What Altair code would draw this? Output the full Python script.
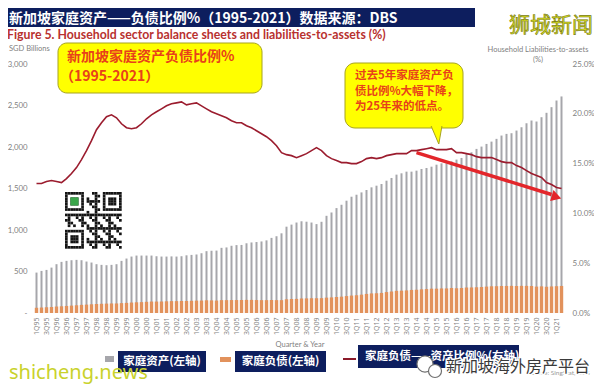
import altair as alt
import pandas as pd

# ---------------- data ----------------
quarters = [f"{q}Q{y % 100:02d}" for y in range(1995, 2022) for q in range(1, 5)][:106]
tick_labels = quarters[::2]

assets = [487, 507, 519, 547, 588, 616, 628, 636, 640, 636,
          620, 608, 588, 580, 576, 580, 588, 628, 656, 680,
          692, 692, 692, 692, 684, 680, 680, 682, 680, 684,
          695, 700, 705, 720, 745, 750, 752, 785, 790, 810,
          818, 820, 840, 850, 855, 862, 875, 905, 925, 960,
          1040, 1065, 1090, 1105, 1100, 1090, 1071, 1099, 1171, 1211,
          1264, 1304, 1353, 1401, 1425, 1453, 1482, 1514, 1534, 1554,
          1594, 1627, 1667, 1683, 1703, 1703, 1715, 1735, 1747, 1763,
          1787, 1803, 1803, 1827, 1848, 1868, 1917, 1936, 1977, 2005,
          2037, 2065, 2098, 2138, 2158, 2166, 2198, 2238, 2286, 2319,
          2307, 2359, 2412, 2480, 2560, 2609]

liabilities = [63, 66, 69, 73, 78, 81, 85, 89, 93, 98,
               101, 105, 108, 111, 113, 115, 115, 119, 122, 126,
               129, 131, 135, 138, 138, 139, 141, 143, 143, 145,
               145, 147, 149, 150, 153, 152, 150, 155, 155, 156,
               156, 157, 158, 158, 156, 155, 155, 157, 155, 155,
               165, 168, 170, 175, 176, 178, 178, 179, 185, 188,
               193, 197, 204, 210, 214, 221, 230, 236, 238, 242,
               252, 259, 267, 269, 272, 278, 280, 285, 288, 293,
               293, 296, 296, 301, 298, 301, 307, 308, 310, 313,
               318, 322, 323, 325, 326, 327, 325, 327, 327, 325,
               318, 321, 316, 320, 323, 326]

ratio = [13.0, 13.0, 13.2, 13.3, 13.2, 13.1, 13.5, 14.0, 14.6, 15.4,
         16.3, 17.3, 18.4, 19.1, 19.7, 19.9, 19.6, 19.0, 18.6, 18.5,
         18.6, 19.0, 19.5, 19.9, 20.2, 20.5, 20.8, 21.0, 21.1, 21.2,
         20.9, 21.0, 21.1, 20.8, 20.5, 20.2, 20.0, 19.8, 19.6, 19.3,
         19.1, 19.1, 18.8, 18.6, 18.3, 18.0, 17.7, 17.3, 16.8, 16.1,
         15.9, 15.8, 15.6, 15.8, 16.0, 16.3, 16.6, 16.3, 15.8, 15.5,
         15.3, 15.1, 15.1, 15.0, 15.0, 15.2, 15.5, 15.6, 15.5, 15.6,
         15.8, 15.9, 16.0, 16.0, 16.0, 16.3, 16.3, 16.4, 16.5, 16.6,
         16.4, 16.4, 16.4, 16.5, 16.1, 16.1, 16.0, 15.9, 15.7, 15.6,
         15.6, 15.6, 15.4, 15.2, 15.1, 15.1, 14.8, 14.6, 14.3, 14.0,
         13.8, 13.6, 13.1, 12.9, 12.6, 12.5]

left_ticks = [0, 500, 1000, 1500, 2000, 2500, 3000]
right_ticks = [0, 5, 10, 15, 20, 25]

arrow_quarters = ["1Q14", "4Q20"]
arrow_values = [16.1, 11.9]
arrow_head_quarter = ["1Q21"]
arrow_head_value = [11.65]

df = pd.DataFrame({"quarter": quarters, "assets": assets,
                   "liabilities": liabilities, "ratio": ratio})

CJK = "Noto Sans CJK SC"
LAT = "Lato"
GRAY = "#7f7f7f"
NAVY = "#0d1e5e"
ORANGE_RED = "#e8411a"

W, H = 530, 249

xenc = alt.X("quarter:N", sort=quarters,
             scale=alt.Scale(paddingInner=0, paddingOuter=0),
             axis=alt.Axis(values=tick_labels, labelAngle=270, labelFontSize=7,
                           labelColor=GRAY, labelFont="Open Sans", ticks=False, domain=False,
                           labelPadding=4, title=None, grid=False))

left_axis = alt.Axis(values=left_ticks, orient="left",
                     labelExpr="datum.value == 0 ? '-' : format(datum.value, ',')",
                     labelColor=GRAY, labelFontSize=7.8, labelFont=LAT, labelPadding=7,
                     ticks=False, domain=False, grid=False, title=None)
right_axis = alt.Axis(values=right_ticks, orient="right",
                      labelExpr="format(datum.value, '.1f') + '%'",
                      labelColor=GRAY, labelFontSize=8, labelFont=LAT, labelPadding=8,
                      ticks=False, domain=False, grid=False, title=None)
lscale = alt.Scale(domain=[0, 3000])
rscale = alt.Scale(domain=[0, 25])

gray_bars = alt.Chart(df).mark_bar(size=2, color="#a6a6ab").encode(
    x=xenc, y=alt.Y("assets:Q", scale=lscale, axis=left_axis))
orange_bars = alt.Chart(df).mark_bar(size=3.4, color="#e2925c").encode(
    x=xenc, y=alt.Y("liabilities:Q", scale=lscale, axis=left_axis))
bars = alt.layer(gray_bars, orange_bars)

ratio_line = alt.Chart(df).mark_line(color="#9b1c2e", strokeWidth=1.6).encode(
    x=xenc, y=alt.Y("ratio:Q", scale=rscale, axis=right_axis))
arrow_df = pd.DataFrame({"quarter": arrow_quarters, "ratio": arrow_values})
arrow_line = alt.Chart(arrow_df).mark_line(color="#e3262b", strokeWidth=3.5).encode(
    x=xenc, y=alt.Y("ratio:Q", scale=rscale, axis=right_axis))
head_df = pd.DataFrame({"quarter": arrow_head_quarter, "ratio": arrow_head_value})
arrow_head = alt.Chart(head_df).mark_point(shape="triangle-right", filled=True, size=130,
                                           angle=17, color="#e3262b", opacity=1).encode(
    x=xenc, y=alt.Y("ratio:Q", scale=rscale, axis=right_axis))
right_layer = alt.layer(ratio_line, arrow_line, arrow_head)

one = pd.DataFrame({"k": [0]})


def rect(x1, x2, y1, y2, fill, stroke=None, sw=1, r=0):
    kw = dict(fill=fill, cornerRadius=r)
    if stroke:
        kw.update(stroke=stroke, strokeWidth=sw)
    return alt.Chart(one).mark_rect(**kw).encode(
        x=alt.value(x1), x2=alt.value(x2), y=alt.value(y1), y2=alt.value(y2))


def text(s, x, y, size, color, font=CJK, weight="normal", align="left", **kw):
    return alt.Chart(one).mark_text(text=s, fontSize=size, color=color, font=font,
                                    fontWeight=weight, align=align, baseline="middle",
                                    **kw).encode(x=alt.value(x), y=alt.value(y))


# plot origin is page (34, 64)
deco = []
# title banner
deco.append(rect(-34, 441, -56, -37, NAVY))
deco.append(text("新加坡家庭资产——负债比例%（1995-2021）数据来源：DBS", -25, -45.5, 14, "white", weight="bold"))
deco.append(text("Figure 5. Household sector balance sheets and liabilities-to-assets (%)",
                 -27, -29, 12.3, "#b8312f", font="Lato", weight="bold"))
deco.append(text("狮城新闻", 517, -38, 21, "#d4dc22", align="center",
                 stroke="#7a7a10", strokeWidth=0.6))
deco.append(text("SGD Billions", -25, -15, 7.5, GRAY, font=LAT))
deco.append(text("Household Liabilities-to-assets", 504, -14, 7.5, GRAY, font=LAT, align="center"))
deco.append(text("(%)", 504, -4.5, 7.5, GRAY, font=LAT, align="center"))

# callout 1
deco.append(rect(24, 228, -21, 29, "#ffff00", "#a6a320", 1, 9))
deco.append(text("新加坡家庭资产负债比例%", 33, -7, 14, ORANGE_RED, weight="bold"))
deco.append(text("（1995-2021）", 26, 12.5, 14, ORANGE_RED, weight="bold"))

# callout 2
deco.append(rect(311, 429, -1, 64, "#ffff00", "#a6a320", 1, 10))
deco.append(alt.Chart(one).mark_point(shape="M -0.65 -1 L 0.2 1 L 0.55 -1", filled=True,
                                      fill="#ffff00", stroke="#a6a320", strokeWidth=1,
                                      size=324, opacity=1).encode(
    x=alt.value(403), y=alt.value(71)))
deco.append(text("过去5年家庭资产负", 321, 12, 11.5, ORANGE_RED, weight="bold"))
deco.append(text("债比例%大幅下降，", 321, 28, 11.5, ORANGE_RED, weight="bold"))
deco.append(text("为25年来的低点。", 321, 43, 11.5, ORANGE_RED, weight="bold"))

# QR-like block (decoration)
qr_rows = []
N, m = 21, 2.7
qx0, qy0 = 31, 128


def finder(i, j):
    for ci, cj in [(0, 0), (0, 14), (14, 0)]:
        di, dj = i - ci, j - cj
        if 0 <= di < 7 and 0 <= dj < 7:
            if di in (0, 6) or dj in (0, 6):
                return 1
            if 2 <= di <= 4 and 2 <= dj <= 4:
                return 1
            return 0
    return None


for i in range(N):
    for j in range(N):
        f = finder(i, j)
        if f is None:
            if (i < 8 and j < 8) or (i < 8 and j >= 13) or (i >= 13 and j < 8):
                f = 0
            else:
                f = 1 if ((i * 7 + j * 11 + i * j * 3) % 5) < 2 else 0
        if f:
            qr_rows.append({"x": qx0 + j * m, "x2": qx0 + (j + 1) * m,
                            "y": qy0 + i * m, "y2": qy0 + (i + 1) * m})
deco.append(rect(qx0 - 1, qx0 + N * m + 1, qy0 - 1, qy0 + N * m + 3, "#ffffff"))
deco.append(alt.Chart(pd.DataFrame(qr_rows)).mark_rect(color="#141414").encode(
    x=alt.X("x:Q", scale=None, axis=None), x2="x2",
    y=alt.Y("y:Q", scale=None, axis=None), y2="y2"))
deco.append(rect(qx0 + 2 * m, qx0 + 5 * m, qy0 + 2 * m, qy0 + 5 * m, "#3aa64a"))

# axis title
deco.append(text("Quarter & Year", 266, 281, 7.5, GRAY, font=LAT, align="center"))

# legend
deco.append(rect(71, 80, 292, 298, "#a6a6ab"))
deco.append(rect(84, 172, 287, 308, NAVY))
deco.append(text("家庭资产(左轴)", 128, 297.5, 11.5, "white", weight="bold", align="center"))
deco.append(rect(186, 197, 293, 298, "#e2925c"))
deco.append(rect(201, 292, 287, 308, NAVY))
deco.append(text("家庭负债(左轴)", 246.5, 297.5, 11.5, "white", weight="bold", align="center"))
deco.append(alt.Chart(one).mark_rule(color="#8b1a2a", strokeWidth=2).encode(
    x=alt.value(309), x2=alt.value(322), y=alt.value(295)))
deco.append(rect(324, 485, 281, 304, NAVY))
deco.append(text("家庭负债——资产比例%(右轴)", 331, 293, 11.5, "white", weight="bold"))

# bottom watermarks
deco.append(text("Source: SingStat, DBS", 494, 309, 6.5, "#9a9a9a", font=LAT))
deco.append(alt.Chart(one).mark_point(shape="circle", filled=True, fill="white",
                                      stroke="#707070", strokeWidth=1.2, size=260,
                                      opacity=1).encode(x=alt.value(391), y=alt.value(300)))
deco.append(alt.Chart(one).mark_point(shape="circle", filled=True, fill="white",
                                      stroke="#707070", strokeWidth=1.2, size=170,
                                      opacity=1).encode(x=alt.value(401), y=alt.value(307)))
deco.append(text("新加坡海外房产平台", 412, 303, 16, "white", stroke="white", strokeWidth=3))
deco.append(text("新加坡海外房产平台", 412, 303, 16, "#3a3a3a"))
deco.append(text("shicheng.news", -25, 309, 20, "#c9d22c", font="Noto Sans"))

chart = alt.layer(bars, right_layer, *deco).resolve_scale(y="independent").properties(
    width=W, height=H,
    padding={"left": 26, "top": 56, "right": 30, "bottom": 71},
    autosize=alt.AutoSizeParams(type="none"),
    background="white",
).configure_view(stroke=None)

chart.save("out.html", embed_options={"renderer": "svg", "actions": False})
